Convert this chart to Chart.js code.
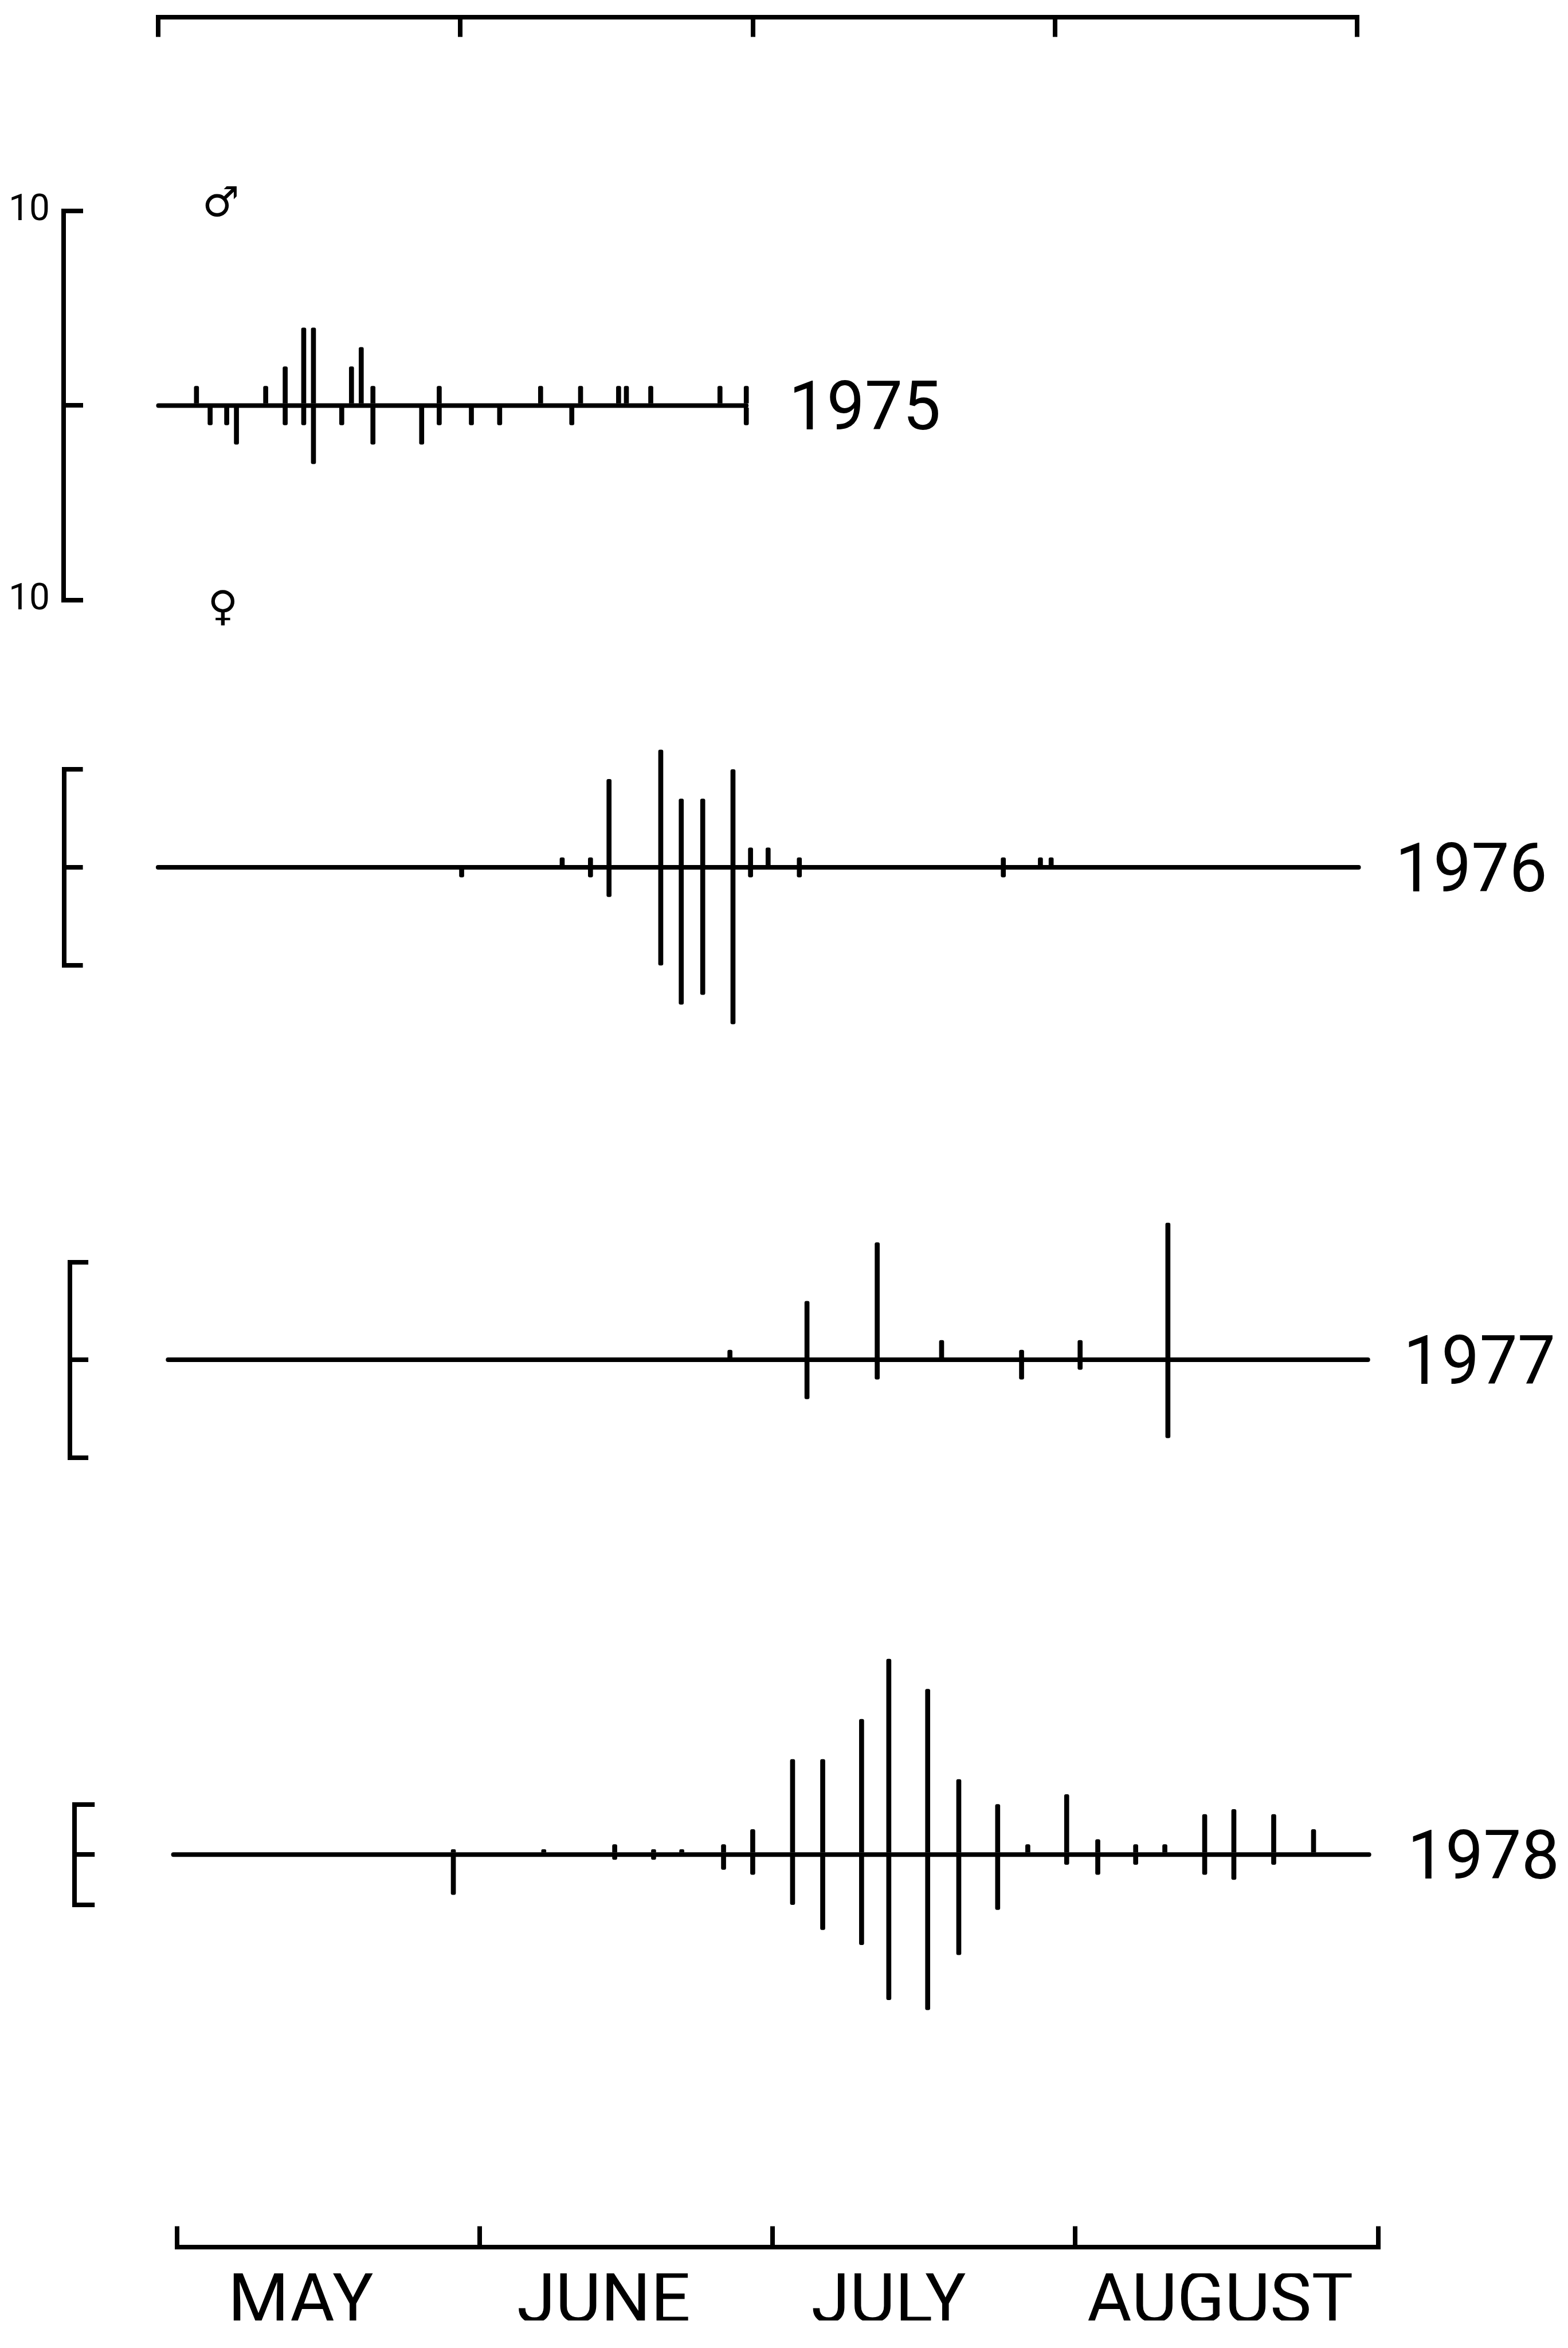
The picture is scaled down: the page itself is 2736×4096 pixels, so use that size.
<!DOCTYPE html>
<html>
<head>
<meta charset="utf-8">
<title>Seasonal catches of males and females, 1975–1978</title>
<script src="https://cdn.jsdelivr.net/npm/chart.js@4.4.1/dist/chart.umd.min.js"></script>
<style>
  html, body { margin: 0; padding: 0; background: #ffffff; }
  #page { position: relative; width: 2736px; height: 4096px; overflow: hidden; background: #ffffff; }
  #page canvas { position: absolute; left: 0; }
</style>
</head>
<body>
<div id="page"></div>
<script>
// Days are counted from 1 May (day 0); the season axis runs to 1 September (day 123).
const seasonDays = 123;
const monthStarts = [0, 31, 61, 92, 123];
const monthNames = ['MAY', 'JUNE', 'JULY', 'AUGUST'];
const monthLabelAt = [12.7, 43.7, 72.9, 106.8];

const years = ['1975', '1976', '1977', '1978'];
const seasonEnd = [60.3, 123, 123, 123];
const bracketTicks = [-10, 0, 10];

// Sampling days and numbers caught (males above the line, females below)
const days1975    = [3.9, 5.3, 7.0, 8.0, 11.0, 13.0, 14.9, 15.9, 18.8, 19.8, 20.8, 22.0, 27.0, 28.8, 32.1, 35.0, 39.2, 42.4, 43.3, 47.2, 48.0, 50.5, 57.6, 60.3];
const males1975   = [1,   0,   0,   0,   1,    2,    4,    4,    0,    2,    3,    1,    0,    1,    0,    0,    1,    0,    1,    1,    1,    1,    1,    1];
const females1975 = [0,   1,   1,   2,   0,    1,    1,    3,    1,    0,    0,    2,    2,    1,    1,    1,    0,    1,    0,    0,    0,    0,    0,    1];

const days1976    = [31.1, 41.4, 44.3, 46.2, 51.5, 53.6, 55.8, 58.9, 60.7, 62.5, 65.7, 86.6, 90.4, 91.5];
const males1976   = [0,    1,    1,    9,    12,   7,    7,    10,   2,    2,    1,    1,    1,    1];
const females1976 = [1,    0,    1,    3,    10,   14,   13,   16,   1,    0,    1,    1,    0,    0];

const days1977    = [57.6, 65.5, 72.7, 79.3, 87.5, 93.5, 102.5];
const males1977   = [1,    6,    12,   2,    1,    2,    14];
const females1977 = [0,    4,    2,    0,    2,    1,    8];

const days1978    = [28.8, 38.1, 45.4, 49.4, 52.3, 56.6, 59.6, 63.7, 66.8, 70.8, 73.6, 77.6, 80.8, 84.8, 87.9, 91.9, 95.1, 99.0, 102.0, 106.1, 109.1, 113.2, 117.3];
const males1978   = [1,    1,    2,    1,    1,    2,    5,    19,   19,   27,   39,   33,   15,   10,   2,    12,   3,    2,    2,     8,     9,     8,     5];
const females1978 = [8,    0,    1,    1,    0,    3,    4,    10,   15,   18,   29,   31,   20,   11,   0,    2,    4,    2,    0,     4,     5,     2,     0];

const panelDays    = [days1975, days1976, days1977, days1978];
const panelMales   = [males1975, males1976, males1977, males1978];
const panelFemales = [females1975, females1976, females1977, females1978];

// ---- page geometry (pixels) ----
const PAGE_W = 2736;
const INK = '#000000';
const STROKE = 8;

const panelLayout = [
  { top: 110,  height: 1185, day0: 276.5, dayPx: 17.01, bracket: 111.0, yTop: 368.3,  yBottom: 1046.6, labelGap: 74, tick: 34 },
  { top: 1295, height: 605,  day0: 275.9, dayPx: 17.03, bracket: 111.6, yTop: 1342.3, yBottom: 1683.9, labelGap: 64, tick: 33 },
  { top: 1900, height: 820,  day0: 293.3, dayPx: 17.02, bracket: 122.1, yTop: 2201.6, yBottom: 2542.6, labelGap: 62, tick: 32 },
  { top: 2720, height: 1080, day0: 302.6, dayPx: 16.96, bracket: 130.2, yTop: 3147.7, yBottom: 3322.6, labelGap: 67, tick: 35 }
];

const topAxis    = { top: 0,    height: 110, day0: 275.9, dayPx: 17.01, line: 30.4,   tick: 34 };
const bottomAxis = { top: 3820, height: 276, day0: 308.8, dayPx: 17.04, line: 3919.6, tick: 36, labelMid: 3993 };

function addCanvas(id, top, height) {
  const c = document.createElement('canvas');
  c.id = id;
  c.width = PAGE_W;
  c.height = height;
  c.style.top = top + 'px';
  c.style.width = PAGE_W + 'px';
  c.style.height = height + 'px';
  document.getElementById('page').appendChild(c);
  return c;
}

const baseOptions = () => ({
  responsive: false,
  maintainAspectRatio: false,
  animation: false,
  devicePixelRatio: 1,
  events: []
});

// Year labels and the sex symbols beside each panel
const panelText = {
  id: 'panelText',
  afterDraw(chart, args, opts) {
    const { ctx, scales: { x, y } } = chart;
    ctx.save();
    ctx.fillStyle = INK;
    ctx.font = '118px Roboto';
    ctx.textAlign = 'left';
    ctx.textBaseline = 'alphabetic';
    ctx.fillText(opts.year, x.getPixelForValue(opts.end) + opts.gap, y.getPixelForValue(0) + 118 * 0.711 / 2);
    (opts.symbols || []).forEach(s => {
      ctx.font = '72px "DejaVu Sans"';
      ctx.textAlign = 'center';
      ctx.textBaseline = 'middle';
      ctx.fillText(s.text, x.getPixelForValue(s.x), y.getPixelForValue(s.y));
    });
    ctx.restore();
  }
};

// ---- month axis along the top ----
(function () {
  const A = topAxis;
  const right = A.day0 + seasonDays * A.dayPx;
  const opts = baseOptions();
  opts.layout = { padding: { left: A.day0, right: PAGE_W - right, top: 10, bottom: A.height - A.tick - A.line } };
  opts.plugins = { legend: { display: false }, tooltip: { enabled: false } };
  opts.scales = {
    x: {
      type: 'linear', position: 'bottom', min: 0, max: seasonDays, offset: false,
      afterBuildTicks: s => { s.ticks = monthStarts.map(v => ({ value: v })); },
      border: { display: true, color: INK, width: STROKE },
      grid: { drawOnChartArea: false, drawTicks: true, tickLength: A.tick, color: INK, lineWidth: STROKE },
      ticks: { display: false }
    },
    y: { display: false, min: 0, max: 1 }
  };
  new Chart(addCanvas('monthsTop', A.top, A.height), { type: 'line', data: { datasets: [] }, options: opts });
})();

// ---- one panel per year ----
years.forEach((year, i) => {
  const L = panelLayout[i];
  const axisW = 100;
  const xMin = -(L.day0 - L.bracket) / L.dayPx;
  const right = L.day0 + seasonDays * L.dayPx;
  const days = panelDays[i], males = panelMales[i], females = panelFemales[i];
  const barStyle = { backgroundColor: INK, barThickness: STROKE, grouped: false, borderRadius: 3, borderSkipped: 'start', clip: false };

  const opts = baseOptions();
  opts.layout = { padding: { left: L.bracket - axisW, right: PAGE_W - right, top: L.yTop - L.top, bottom: L.top + L.height - L.yBottom } };
  opts.plugins = {
    legend: { display: false },
    tooltip: { enabled: false },
    panelText: {
      year: year, end: seasonEnd[i], gap: L.labelGap,
      symbols: i === 0 ? [{ text: '♂', x: 6.4, y: 10.3 }, { text: '♀', x: 6.6, y: -10.5 }] : []
    }
  };
  opts.scales = {
    x: { type: 'linear', display: false, min: xMin, max: seasonDays, offset: false, grid: { offset: false } },
    y: {
      type: 'linear', position: 'left', min: -10, max: 10,
      afterBuildTicks: s => { s.ticks = bracketTicks.map(v => ({ value: v })); },
      afterFit: s => { s.width = axisW; },
      border: { display: true, color: INK, width: STROKE },
      grid: { drawOnChartArea: false, drawTicks: true, tickLength: -L.tick, color: INK, lineWidth: STROKE },
      ticks: {
        display: i === 0, color: INK, padding: 58, font: { family: 'Roboto', size: 64 },
        callback: v => (v === 0 ? '' : String(Math.abs(v)))
      }
    }
  };

  new Chart(addCanvas('panel' + year, L.top, L.height), {
    type: 'bar',
    data: {
      datasets: [
        { type: 'line', data: [{ x: 0, y: 0 }, { x: seasonEnd[i], y: 0 }], borderColor: INK, borderWidth: STROKE,
          borderCapStyle: 'round', pointRadius: 0, clip: false },
        Object.assign({ label: 'males', data: days.map((d, k) => ({ x: d, y: males[k] || null })) }, barStyle),
        Object.assign({ label: 'females', data: days.map((d, k) => ({ x: d, y: females[k] ? -females[k] : null })) }, barStyle)
      ]
    },
    options: opts,
    plugins: [panelText]
  });
});

// ---- month axis along the bottom, with month names ----
(function () {
  const A = bottomAxis;
  const right = A.day0 + seasonDays * A.dayPx;
  const labelSize = 122;
  const lineFactor = 0.9;
  const lineH = labelSize * lineFactor;
  const axisTop = A.line - A.tick - A.top;
  const labelsTop = A.labelMid - lineH / 2 - A.top;
  const opts = baseOptions();
  opts.layout = { padding: { left: A.day0, right: PAGE_W - right, top: axisTop, bottom: A.height - labelsTop - lineH } };
  opts.plugins = { legend: { display: false }, tooltip: { enabled: false } };
  opts.scales = {
    x: {
      type: 'linear', position: 'top', min: 0, max: seasonDays, offset: false,
      afterBuildTicks: s => { s.ticks = monthStarts.map(v => ({ value: v })); },
      border: { display: true, color: INK, width: STROKE },
      grid: { drawOnChartArea: false, drawTicks: true, tickLength: A.tick, color: INK, lineWidth: STROKE },
      ticks: { display: false }
    },
    xMonths: {
      type: 'linear', position: 'bottom', axis: 'x', min: 0, max: seasonDays, offset: false,
      afterBuildTicks: s => { s.ticks = monthLabelAt.map(v => ({ value: v })); },
      border: { display: false },
      grid: { display: false, drawTicks: false },
      ticks: {
        display: true, autoSkip: false, maxRotation: 0, padding: 0, color: INK,
        font: { family: 'Roboto', size: labelSize, lineHeight: lineFactor },
        callback: (v, idx) => monthNames[idx]
      }
    },
    y: { display: false, min: 0, max: 1 }
  };
  new Chart(addCanvas('monthsBottom', A.top, A.height), { type: 'line', data: { datasets: [] }, options: opts });
})();
</script>
</body>
</html>
